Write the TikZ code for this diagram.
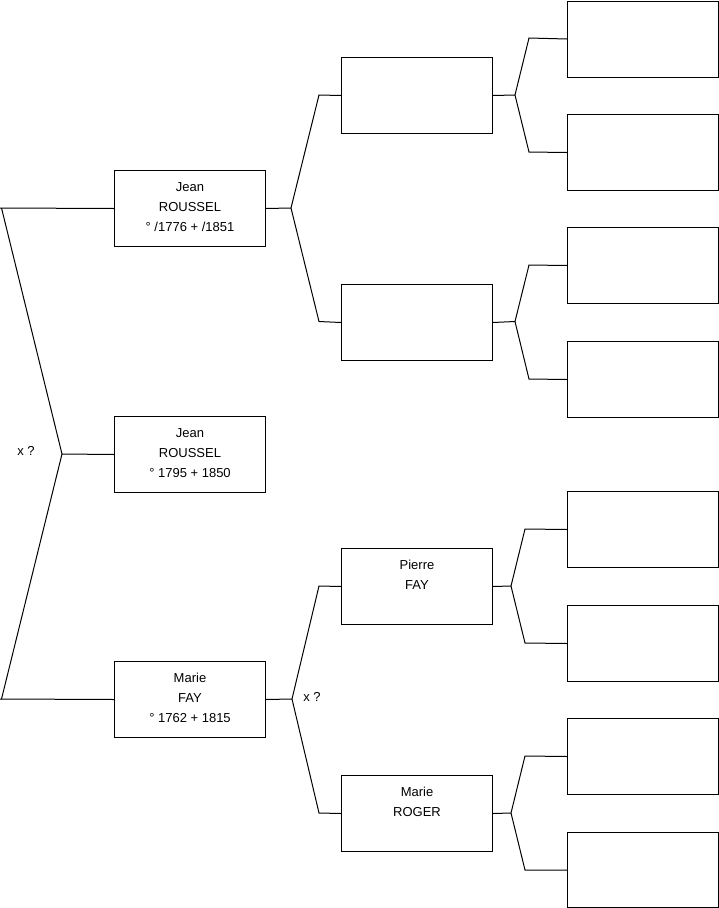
\documentclass[tikz,border=0pt]{standalone}
\usepackage{fontspec}
\setmainfont{Liberation Sans}
\begin{document}
\begin{tikzpicture}[x=1pt,y=-1pt,line width=1pt,
  box/.style={draw, minimum width=151pt, minimum height=76pt, inner sep=0pt, anchor=north west},
  lbl/.style={font=\fontsize{13}{20}\selectfont, align=center, inner sep=0pt, anchor=north, yshift=-12pt},
  conn/.style={draw, line width=1pt},
  marrytxt/.style={font=\fontsize{13}{16}\selectfont, inner sep=0pt}]
\useasboundingbox (0,0) rectangle (719,908);
% generation 1
\node[box, label={[lbl]north:{Jean\\ROUSSEL\\° /1776 + /1851}}] (a1) at (114,170) {};
\node[box, label={[lbl]north:{Jean\\ROUSSEL\\° 1795 + 1850}}] (a0) at (114,416) {};
\node[box, label={[lbl]north:{Marie\\FAY\\° 1762 + 1815}}] (a2) at (114,661) {};
% generation 2
\node[box] (b1) at (341,57) {};
\node[box] (b2) at (341,284) {};
\node[box, label={[lbl]north:{Pierre\\FAY}}] (b3) at (341,548) {};
\node[box, label={[lbl]north:{Marie\\ROGER}}] (b4) at (341,775) {};
% generation 3
\node[box] (c1) at (567,0.5) {};
\node[box] (c2) at (567,114) {};
\node[box] (c3) at (567,227) {};
\node[box] (c4) at (567,341) {};
\node[box] (c5) at (567,491) {};
\node[box] (c6) at (567,605) {};
\node[box] (c7) at (567,718) {};
\node[box, minimum height=75pt] (c8) at (567,832) {};
% marriage marks
\node[marrytxt] (m1) at (26,451) {x ?};
\node[marrytxt] (m2) at (312,697) {x ?};
% junction coordinates
\coordinate (l1) at (1.5,208);
\coordinate (l2) at (1.5,699);
\coordinate (j0) at (62,454);
\coordinate (k1) at (291,208);
\coordinate (k1a) at (319,95);
\coordinate (k1b) at (319,321.5);
\coordinate (k2) at (292,699);
\coordinate (k2a) at (319,586);
\coordinate (k2b) at (319,813);
\coordinate (p1) at (515,95);
\coordinate (p1a) at (529,38);
\coordinate (p1b) at (529,152);
\coordinate (p2) at (515,321.5);
\coordinate (p2a) at (529,265);
\coordinate (p2b) at (529,379);
\coordinate (p3) at (511,586);
\coordinate (p3a) at (525,529);
\coordinate (p3b) at (525,643);
\coordinate (p4) at (511,813);
\coordinate (p4a) at (525,756);
\coordinate (p4b) at (525,870);
% connectors
\draw[conn] (a1.west) -- (0,208);
\draw[conn] (a2.west) -- (0,699);
\draw[conn] (l1) -- (j0) -- (l2);
\draw[conn] (j0) -- (a0.west);
\draw[conn] (a1.east) -- (k1);
\draw[conn] (b1.west) -- (k1a) -- (k1) -- (k1b) -- (b2.west);
\draw[conn] (a2.east) -- (k2);
\draw[conn] (b3.west) -- (k2a) -- (k2) -- (k2b) -- (b4.west);
\draw[conn] (b1.east) -- (p1);
\draw[conn] (c1.west) -- (p1a) -- (p1) -- (p1b) -- (c2.west);
\draw[conn] (b2.east) -- (p2);
\draw[conn] (c3.west) -- (p2a) -- (p2) -- (p2b) -- (c4.west);
\draw[conn] (b3.east) -- (p3);
\draw[conn] (c5.west) -- (p3a) -- (p3) -- (p3b) -- (c6.west);
\draw[conn] (b4.east) -- (p4);
\draw[conn] (c7.west) -- (p4a) -- (p4) -- (p4b) -- (c8.west);
\end{tikzpicture}
\end{document}
